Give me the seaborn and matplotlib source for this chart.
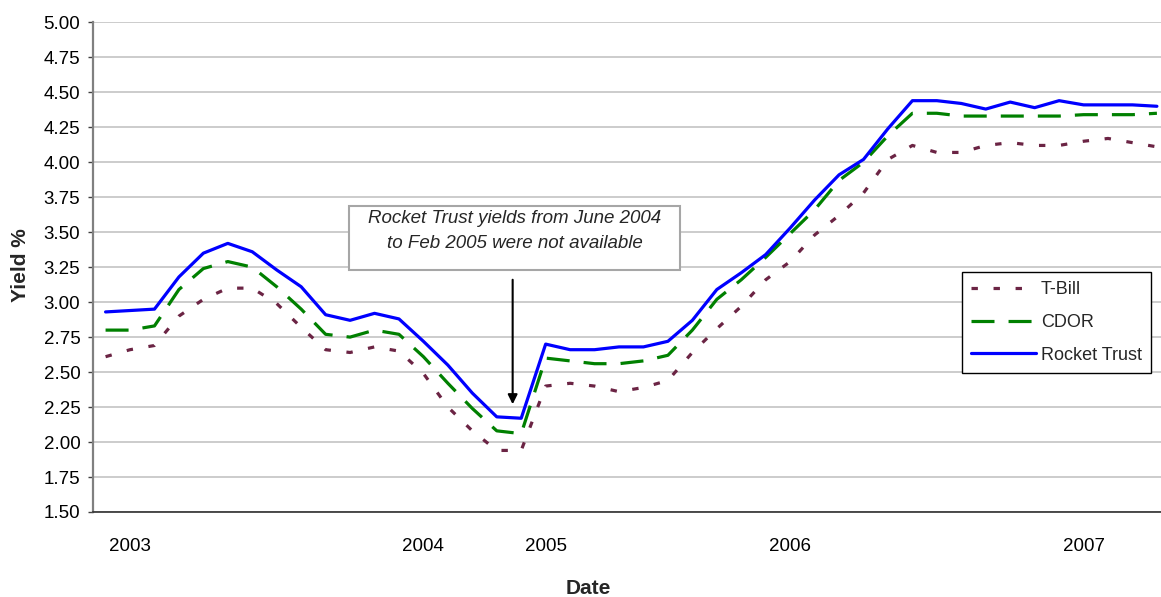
import numpy as np
import pandas as pd
import matplotlib
matplotlib.use("Agg")
import matplotlib.pyplot as plt
from matplotlib.patches import Rectangle
from matplotlib.ticker import FormatStrFormatter
import seaborn as sns

# Monthly observations; June 2004 - Feb 2005 are absent from the record
months = (list(pd.period_range("2002-12", "2004-05", freq="M").strftime("%b %Y"))
          + list(pd.period_range("2005-03", "2007-04", freq="M").strftime("%b %Y")))

t_bill = [2.61, 2.66, 2.69, 2.90, 3.02, 3.10, 3.10, 2.99, 2.82, 2.66,
          2.64, 2.68, 2.65, 2.49, 2.25, 2.08, 1.94, 1.94, 2.40, 2.42,
          2.40, 2.36, 2.39, 2.44, 2.64, 2.81, 2.97, 3.16, 3.29, 3.48,
          3.62, 3.78, 4.02, 4.12, 4.07, 4.07, 4.12, 4.14, 4.12, 4.12,
          4.15, 4.17, 4.14, 4.11]

cdor = [2.80, 2.80, 2.83, 3.09, 3.24, 3.29, 3.25, 3.11, 2.95, 2.77,
        2.75, 2.80, 2.77, 2.61, 2.42, 2.24, 2.08, 2.06, 2.60, 2.58,
        2.56, 2.56, 2.58, 2.62, 2.80, 3.02, 3.16, 3.32, 3.49, 3.66,
        3.87, 4.00, 4.19, 4.35, 4.35, 4.33, 4.33, 4.33, 4.33, 4.33,
        4.34, 4.34, 4.34, 4.35]

rocket_trust = [2.93, 2.94, 2.95, 3.18, 3.35, 3.42, 3.36, 3.23, 3.11, 2.91,
                2.87, 2.92, 2.88, 2.72, 2.55, 2.35, 2.18, 2.17, 2.70, 2.66,
                2.66, 2.68, 2.68, 2.72, 2.87, 3.09, 3.21, 3.34, 3.53, 3.73,
                3.91, 4.02, 4.24, 4.44, 4.44, 4.42, 4.38, 4.43, 4.39, 4.44,
                4.41, 4.41, 4.41, 4.40]

series_names = ["T-Bill", "CDOR", "Rocket Trust"]
note_lines = ["Rocket Trust yields from June 2004",
              "to Feb 2005 were not available"]

sns.set_style("white")
plt.rcParams["font.family"] = ["Liberation Sans", "DejaVu Sans"]

n = len(months)
pos = np.arange(1, n + 1)
df = pd.DataFrame({
    "pos": np.tile(pos, 3),
    "Yield": t_bill + cdor + rocket_trust,
    "Series": np.repeat(series_names, n),
})

# year labels sit on the first month of each calendar year
years = [m[-4:] for m in months]
year_pos = [i + 1 for i in range(1, n) if years[i] != years[i - 1]]
year_labels = [years[p - 1] for p in year_pos]

fig = plt.figure(figsize=(11.61, 5.97), dpi=100)
ax = fig.add_axes([0.0804, 0.1424, 0.9266, 0.8202])

palette = {"T-Bill": "#6B2444", "CDOR": "#008000", "Rocket Trust": "#0000FF"}
dashes = {"T-Bill": (2.0, 4.9), "CDOR": (7.2, 4.4), "Rocket Trust": ""}
sns.lineplot(data=df, x="pos", y="Yield", hue="Series", style="Series",
             hue_order=series_names, style_order=series_names,
             palette=palette, dashes=dashes, linewidth=2.3,
             sort=False, legend=False, ax=ax)

# axes
ax.set_xlim(0.5, n + 0.5)
ax.set_ylim(1.5, 5.0)
ax.set_yticks(np.arange(1.5, 5.001, 0.25))
ax.yaxis.set_major_formatter(FormatStrFormatter("%.2f"))
ax.set_xticks(np.arange(0.5, n + 1), labels=[""] * (n + 1))
ax.set_xticks(year_pos, labels=year_labels, minor=True)
ax.tick_params(axis="x", which="major", length=4.5, width=1.0,
               color="#202020", direction="out")
ax.tick_params(axis="x", which="minor", length=0, pad=18.5, labelsize=13.5,
               labelcolor="black")
ax.tick_params(axis="y", length=3.6, width=1.0, color="#404040",
               pad=5.8, labelsize=13.5, labelcolor="black", left=True)

ax.yaxis.grid(True, color="#BEBEBE", linewidth=1.1)
ax.xaxis.grid(False)
ax.set_axisbelow(True)

for side in ("top", "right"):
    ax.spines[side].set_visible(False)
ax.spines["left"].set_color("#808080")
ax.spines["left"].set_linewidth(1.6)
ax.spines["bottom"].set_color("#303030")
ax.spines["bottom"].set_linewidth(1.2)

ax.set_xlabel("Date", fontsize=15, fontweight="bold", va="center")
ax.xaxis.set_label_coords(0.46, -0.157)
ax.set_ylabel("Yield %", fontsize=15, fontweight="bold", va="center")
ax.yaxis.set_label_coords(-0.068, 0.504)

# legend
handles = ax.get_lines()[:3]
leg = ax.legend(handles, series_names, loc="upper left",
                bbox_to_anchor=(962 / 1161, 1 - 272 / 597),
                bbox_transform=fig.transFigure, frameon=True, fancybox=False,
                edgecolor="black", framealpha=1, fontsize=13,
                handlelength=3.6, handletextpad=0.28, labelspacing=0.88,
                borderpad=0.5, borderaxespad=0)
leg.get_frame().set_linewidth(1.0)

# note box and arrow
fig.add_artist(Rectangle((349 / 1161, 1 - 270 / 597), 331 / 1161, 64 / 597,
                         transform=fig.transFigure, facecolor="white",
                         edgecolor="#A6A6A6", linewidth=1.5, zorder=3))
fig.text(514.5 / 1161, 1 - 219 / 597, note_lines[0], ha="center", va="center",
         fontsize=13.5, style="italic", zorder=4)
fig.text(514.5 / 1161, 1 - 244 / 597, note_lines[1], ha="center", va="center",
         fontsize=13.5, style="italic", zorder=4)
ax.annotate("", xy=(17.65, 2.27), xytext=(17.65, 3.16),
            arrowprops=dict(arrowstyle="-|>", color="black", lw=1.5,
                            mutation_scale=14, shrinkA=0, shrinkB=0))

fig.savefig("out.png", dpi=100)
